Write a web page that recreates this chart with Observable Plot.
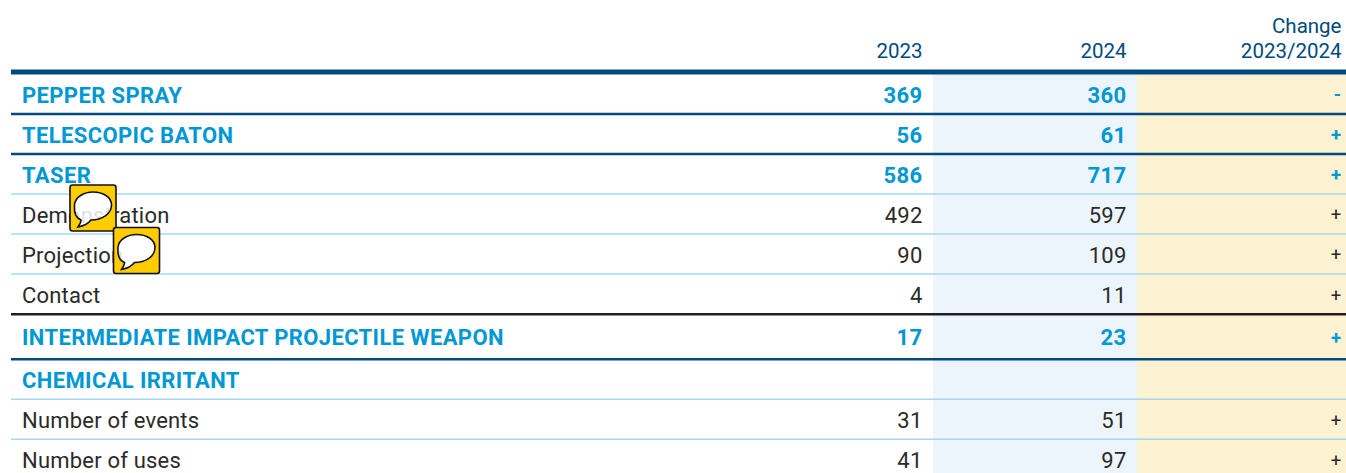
<!DOCTYPE html>
<html>
<head>
<meta charset="utf-8">
<script src="https://cdn.jsdelivr.net/npm/d3@7"></script>
<script src="https://cdn.jsdelivr.net/npm/@observablehq/plot@0.6"></script>
<style>
html,body{margin:0;padding:0;background:#fff}svg{display:block}
.ls-head text{letter-spacing:.38px}
.ls-body text{letter-spacing:.2px}
</style>
</head>
<body>
<div id="chart"></div>
<script>
const labels = ["PEPPER SPRAY","TELESCOPIC BATON","TASER","Demonstration","Projection","Contact","INTERMEDIATE IMPACT PROJECTILE WEAPON","CHEMICAL IRRITANT","Number of events","Number of uses"];
const values2023 = ["369","56","586","492","90","4","17","","31","41"];
const values2024 = ["360","61","717","597","109","11","23","","51","97"];
const changes = ["-","+","+","+","+","+","+","","+","+"];
const isHeading = [true,true,true,false,false,false,true,true,false,false];
const yearHeads = ["2023","2024"];
const changeHead = ["Change\n2023/2024"];
const notedRows = ["Demonstration","Projection"];

const NAVY="#004a80", CYAN="#0098d4", INK="#2b2a29", BLUE="#edf5fc", CREAM="#fdf2d2", PALE="#a5d8f0", BLACK="#231f20";
const FONT = "Roboto, sans-serif";

const rows = labels.map((label,i)=>({label,i,heading:isHeading[i],v23:values2023[i],v24:values2024[i],change:changes[i]}));
const ruleRows = rows.slice(0,-1).map((r,i)=>{
  const nextHeading = isHeading[i+1];
  return {i:i+1, color: !nextHeading ? PALE : (r.heading ? NAVY : BLACK), w: !nextHeading ? 1.5 : 2.5};
});

function bubblePath(c){
  c.moveTo(-15,19);
  c.bezierCurveTo(-13,16,-12,14,-12,12);
  c.bezierCurveTo(-20,9,-18.5,0,-18.5,-3);
  c.bezierCurveTo(-18,-11,-9,-16,0,-16);
  c.bezierCurveTo(10,-16,18.5,-11,18.5,-3);
  c.bezierCurveTo(18.5,6,9,12,-2,12);
  c.bezierCurveTo(-5,16,-10,18,-15,19);
  c.closePath();
}
// Frame is wound against the bubble so the bubble stays a hole in the yellow
const iconFrame = {draw(c){
  const s=23, r=2.5;
  c.moveTo(-s+r,-s); c.quadraticCurveTo(-s,-s,-s,-s+r);
  c.lineTo(-s,s-r); c.quadraticCurveTo(-s,s,-s+r,s);
  c.lineTo(s-r,s); c.quadraticCurveTo(s,s,s,s-r);
  c.lineTo(s,-s+r); c.quadraticCurveTo(s,-s,s-r,-s);
  c.closePath();
  bubblePath(c);
}};
const iconBubble = {draw(c){ bubblePath(c); }};
const noted = rows.filter(r=>notedRows.includes(r.label));
const iconShift = {Demonstration:[81.5,-6], Projection:[125,-3.5]};
const iconMarks = noted.flatMap(r=>{
  const [dx,dy]=iconShift[r.label];
  const pos={x:()=>0, y:d=>d.i+0.5, dx, dy};
  return [
    Plot.dot([r],{...pos,symbol:iconBubble,fill:"#fff",fillOpacity:0.85,stroke:"none"}),
    Plot.dot([r],{...pos,symbol:iconFrame,fill:"#ffcc00",stroke:"#111",strokeWidth:1.6})
  ];
});

const headBase = {y:()=>0,text:d=>d,textAnchor:"end",lineAnchor:"bottom",lineHeight:1.24,fontSize:20.5,fill:NAVY,fontFamily:FONT};
const chart = Plot.plot({
  width:1346, height:473, margin:0,
  style:{background:"#fff",fontFamily:FONT},
  x:{type:"linear",domain:[0,1,2,3],range:[11,933,1137,1346],axis:null},
  y:{type:"linear",domain:[0,1,2,3,4,5,6,7,8,9,10],range:[73.5,113.5,153.5,193.5,233.5,273.5,313.7,358.7,398.7,438.7,478.7],axis:null},
  marks:[
    Plot.rect(rows,{x1:()=>1,x2:()=>2,y1:d=>d.i,y2:d=>d.i+1,fill:BLUE}),
    Plot.rect(rows,{x1:()=>2,x2:()=>3,y1:d=>d.i,y2:d=>d.i+1,fill:CREAM}),
    Plot.ruleY(ruleRows,{y:"i",x1:()=>0,x2:()=>3,stroke:"color",strokeWidth:"w"}),
    Plot.ruleY([0],{x1:()=>0,x2:()=>3,stroke:NAVY,strokeWidth:5,dy:-2}),
    Plot.text(yearHeads,{...headBase,x:(d,i)=>i+1,dy:-16,dx:-11}),
    Plot.text(changeHead,{...headBase,x:()=>3,dy:-16,dx:-5}),
    ...[true,false].flatMap(h=>{
      const sub=rows.filter(r=>r.heading===h);
      const base={y:d=>d.i+0.5,dy:1.5,fill:h?CYAN:INK,fontWeight:h?700:400,fontSize:22,fontFamily:FONT,className:h?"ls-head":"ls-body"};
      return [
        Plot.text(sub,{...base,x:()=>0,text:"label",textAnchor:"start",dx:10.5}),
        Plot.text(sub,{...base,x:()=>1,text:"v23",textAnchor:"end",dx:-11}),
        Plot.text(sub,{...base,x:()=>2,text:"v24",textAnchor:"end",dx:-11}),
        Plot.text(sub,{...base,x:()=>3,text:"change",textAnchor:"end",dx:-5,fontSize:18.5})
      ];
    }),
    ...iconMarks
  ]
});
document.getElementById("chart").append(chart);
</script>
</body>
</html>
